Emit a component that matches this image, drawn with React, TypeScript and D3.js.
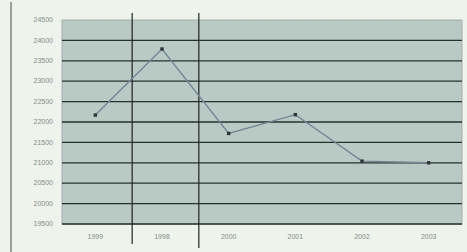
import React from "react";
import * as d3 from "d3";

// values
const years = ["1999", "1998", "2000", "2001", "2002", "2003"];
const values = [22170, 23790, 21720, 22180, 21040, 21000];
const yTicks = [19500, 20000, 20500, 21000, 21500, 22000, 22500, 23000, 23500, 24000, 24500];
// hand-drawn dividers after these categories
const dividerAfter = ["1999", "1998"];

const W = 467, H = 252;
const margin = { top: 20, right: 5, bottom: 28, left: 62 };

export default function App() {
  const x = d3.scaleBand<string>().domain(years).range([margin.left, W - margin.right]).padding(0);
  const y = d3.scaleLinear().domain([19500, 24500]).range([H - margin.bottom, margin.top]);
  const line = d3.line<number>()
    .x((_, i) => (x(years[i]) as number) + x.bandwidth() / 2)
    .y(d => y(d));

  const fmt = (v: number) => String(v);

  return (
    <svg width={W} height={H} style={{ position: "absolute", left: 0, top: 0, background: "#eef4ec" }}>
      <rect x={0} y={0} width={W} height={H} fill="#eef4ec" />
      {/* scan border line on the left */}
      <line x1={11} x2={11} y1={2} y2={H} stroke="#7d857f" strokeWidth={1.5} />
      {/* plot area */}
      <rect x={margin.left} y={margin.top} width={W - margin.left - margin.right} height={H - margin.top - margin.bottom}
        fill="#b9c9c3" stroke="#9fb0aa" strokeWidth={1} />
      {yTicks.map(t => (
        <g key={t}>
          {t > 19500 && t < 24500 && (
            <line x1={margin.left} x2={W - margin.right} y1={y(t)} y2={y(t)} stroke="#26302d" strokeWidth={1.3} />
          )}
          <text x={53} y={y(t)} dy="0.32em" textAnchor="end" fontSize={7} fill="#858b87"
            fontFamily="Liberation Sans, Arial, sans-serif">{fmt(t)}</text>
        </g>
      ))}
      <line x1={margin.left} x2={W - margin.right} y1={y(19500)} y2={y(19500)} stroke="#26302d" strokeWidth={1.3} />
      {dividerAfter.map((c, i) => {
        const xx = (x(c) as number) + x.bandwidth() + 3.5;
        return <line key={c} x1={xx} x2={xx} y1={13} y2={244 + i * 4} stroke="#1e2422" strokeWidth={1.2} />;
      })}
      <path d={line(values) || ""} fill="none" stroke="#74869a" strokeWidth={1.4} />
      {values.map((v, i) => (
        <rect key={i} x={(x(years[i]) as number) + x.bandwidth() / 2 - 1.7} y={y(v) - 1.7} width={3.4} height={3.4} fill="#2e3436" />
      ))}
      {years.map(c => (
        <text key={c} x={(x(c) as number) + x.bandwidth() / 2} y={239} textAnchor="middle" fontSize={7} fill="#858b87"
          fontFamily="Liberation Sans, Arial, sans-serif">{c}</text>
      ))}
    </svg>
  );
}
